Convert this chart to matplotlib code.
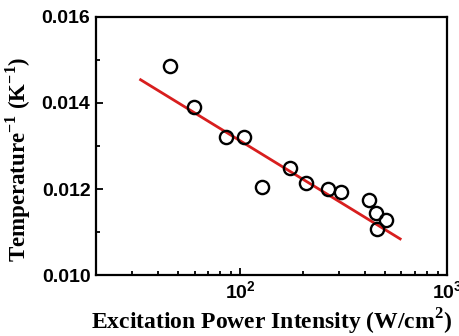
import matplotlib.pyplot as plt
import numpy as np
from matplotlib.ticker import FixedLocator, NullFormatter, MultipleLocator

# measured points: excitation power (W/cm^2) vs inverse temperature (1/K)
power = np.array([45.4, 59.5, 85.6, 104.5, 127.3, 173, 208, 265, 307, 417, 454, 507, 460])
inv_temp = np.array([0.01485, 0.01390, 0.01320, 0.01322, 0.01204, 0.01249, 0.01215,
                     0.01200, 0.01193, 0.01175, 0.01144, 0.01127, 0.01108])

# linear fit (in log x), end points
fit_power = np.array([32.9, 593])
fit_inv_temp = np.array([0.01454, 0.01084])

sans = {'family': 'Liberation Sans', 'weight': 'bold'}
serif = {'family': 'Liberation Serif', 'weight': 'bold'}

fig = plt.figure(figsize=(4.59, 3.36), dpi=100)
ax = fig.add_axes([0.209, 0.1815, 0.765, 0.768])

ax.plot(fit_power, fit_inv_temp, color='#d81e1e', lw=2.0, zorder=2)
ax.plot(power, inv_temp, 'o', mfc='none', mec='black', ms=9.5, mew=1.7, zorder=3)

ax.set_xscale('log')
ax.set_xlim(20, 1000)
ax.set_ylim(0.010, 0.016)

ax.set_xticks([100, 1000])
ax.set_xticklabels([r'$\mathregular{10^2}$', r'$\mathregular{10^3}$'], fontdict=sans, fontsize=14)
ax.xaxis.set_minor_locator(FixedLocator([20, 30, 40, 50, 60, 70, 80, 90,
                                         200, 300, 400, 500, 600, 700, 800, 900]))
ax.xaxis.set_minor_formatter(NullFormatter())

ax.yaxis.set_major_locator(MultipleLocator(0.002))
ax.yaxis.set_minor_locator(MultipleLocator(0.001))
ax.set_yticks([0.010, 0.012, 0.014, 0.016])
ax.set_yticklabels(['0.010', '0.012', '0.014', '0.016'], fontdict=sans, fontsize=14)

ax.tick_params(which='both', direction='in', top=False, right=False, width=1.3)
ax.tick_params(which='major', length=5, pad=4)
ax.tick_params(which='minor', length=3)
for s in ax.spines.values():
    s.set_linewidth(1.6)

ax.set_xlabel(r'Excitation Power Intensity (W/cm$^{\mathregular{2}}$)', fontdict=serif, fontsize=17, labelpad=3)
ax.set_ylabel(r'Temperature$^{\mathregular{-1}}$ (K$^{\mathregular{-1}}$)', fontdict=serif, fontsize=16.5)
ax.yaxis.set_label_coords(-0.18, 0.45)

fig.savefig('out.png', dpi=100)
